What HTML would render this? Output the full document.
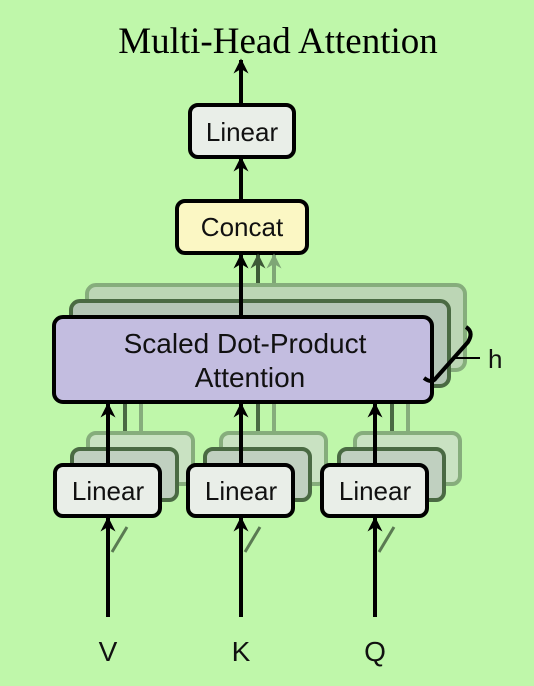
<!DOCTYPE html>
<html><head><style>
body{margin:0;background:#bff7aa;}
svg{display:block}
text{font-family:"Liberation Sans",sans-serif;}
</style></head><body>
<svg width="534" height="686" viewBox="0 0 534 686" xmlns="http://www.w3.org/2000/svg">
<defs>
<marker id="a" viewBox="0 0 10 10" refX="9" refY="5" markerWidth="15" markerHeight="15" markerUnits="userSpaceOnUse" orient="auto"><path d="M0,0 L10,5 L0,10 L3,5Z" fill="#000"/></marker>
<marker id="a2" viewBox="0 0 10 10" refX="9" refY="5" markerWidth="15" markerHeight="15" markerUnits="userSpaceOnUse" orient="auto"><path d="M0,0 L10,5 L0,10 L3,5Z" fill="#3d5a37"/></marker>
<marker id="a3" viewBox="0 0 10 10" refX="9" refY="5" markerWidth="15" markerHeight="15" markerUnits="userSpaceOnUse" orient="auto"><path d="M0,0 L10,5 L0,10 L3,5Z" fill="#7fa676"/></marker>
</defs>
<rect width="534" height="686" fill="#bff7aa"/>
<text x="278" y="53" text-anchor="middle" style="font-family:'Liberation Serif',serif" font-size="37">Multi-Head Attention</text>

<line x1="241" y1="105" x2="241" y2="60" stroke="#000" stroke-width="4" marker-end="url(#a)"/>
<rect x="190" y="105" width="104" height="52" rx="8" fill="#e9eee8" stroke="#000" stroke-width="4"/>
<text x="242" y="141" text-anchor="middle" font-size="26" fill="#111">Linear</text>
<line x1="241" y1="201" x2="241" y2="158" stroke="#000" stroke-width="4" marker-end="url(#a)"/>
<rect x="177" y="201" width="130" height="52" rx="8" fill="#fbf7c4" stroke="#000" stroke-width="4"/>
<text x="242" y="236" text-anchor="middle" font-size="26" fill="#111">Concat</text>

<line x1="274" y1="285" x2="274" y2="255" stroke="#7fa676" stroke-width="4" marker-end="url(#a3)"/>
<line x1="258" y1="301" x2="258" y2="255" stroke="#3d5a37" stroke-width="4" marker-end="url(#a2)"/>

<rect x="87" y="285" width="378" height="85" rx="9" fill="#bcd6b5" stroke="#86ad7c" stroke-width="4"/>
<rect x="71" y="301" width="378" height="85" rx="9" fill="#b4c6b6" stroke="#4a6a43" stroke-width="4"/>
<line x1="241" y1="317" x2="241" y2="255" stroke="#000" stroke-width="4" marker-end="url(#a)"/>
<rect x="54" y="317" width="378" height="85" rx="9" fill="#c3bde0" stroke="#000" stroke-width="4"/>
<text x="245" y="353" text-anchor="middle" font-size="28" fill="#111">Scaled Dot-Product</text>
<text x="250" y="387" text-anchor="middle" font-size="28" fill="#111">Attention</text>
<path d="M466,327 Q474,332 468,342 L436,378 Q432,384 424,378" fill="none" stroke="#000" stroke-width="4"/>
<line x1="455" y1="358" x2="480" y2="358" stroke="#000" stroke-width="2"/>
<text x="488" y="368" font-size="26" fill="#111">h</text>

<g id="g">
<line x1="141" y1="435" x2="141" y2="404" stroke="#86ad7c" stroke-width="4"/>
<line x1="125" y1="450" x2="125" y2="404" stroke="#4a6a43" stroke-width="4"/>
<rect x="88" y="433" width="105" height="51" rx="8" fill="#c9e2c2" stroke="#86ad7c" stroke-width="4"/>
<rect x="72" y="449" width="105" height="51" rx="8" fill="#c0d0c0" stroke="#4a6a43" stroke-width="4"/>
<line x1="108" y1="465" x2="108" y2="404" stroke="#000" stroke-width="4" marker-end="url(#a)"/>
<rect x="55" y="465" width="105" height="51" rx="8" fill="#e9eee8" stroke="#000" stroke-width="4"/>
<text x="108" y="500" text-anchor="middle" font-size="26" fill="#111">Linear</text>
<line x1="127" y1="527" x2="112" y2="552" stroke="#5a7a52" stroke-width="3"/>
<line x1="108" y1="617" x2="108" y2="518" stroke="#000" stroke-width="4" marker-end="url(#a)"/>
</g>
<use href="#g" x="133"/>
<use href="#g" x="267"/>

<text x="108" y="661" text-anchor="middle" font-size="28" fill="#111">V</text>
<text x="241" y="661" text-anchor="middle" font-size="28" fill="#111">K</text>
<text x="375" y="661" text-anchor="middle" font-size="28" fill="#111">Q</text>
</svg>
</body></html>
